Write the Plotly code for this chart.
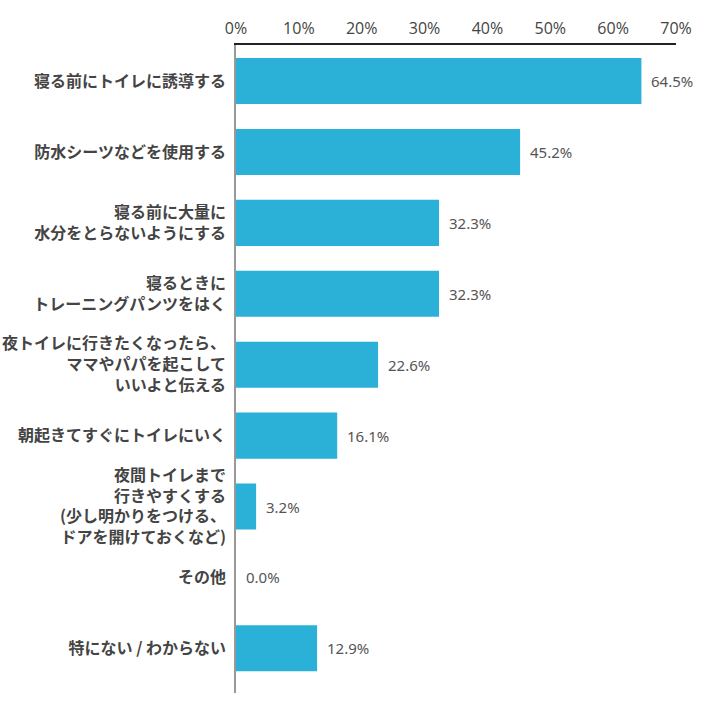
import plotly.graph_objects as go

categories = [
    "寝る前にトイレに誘導する",
    "防水シーツなどを使用する",
    "寝る前に大量に<br>水分をとらないようにする",
    "寝るときに<br>トレーニングパンツをはく",
    "夜トイレに行きたくなったら、<br>ママやパパを起こして<br>いいよと伝える",
    "朝起きてすぐにトイレにいく",
    "夜間トイレまで<br>行きやすくする<br>(少し明かりをつける、<br>ドアを開けておくなど)",
    "その他",
    "特にない / わからない",
]
values = [64.5, 45.2, 32.3, 32.3, 22.6, 16.1, 3.2, 0.0, 12.9]
tick_vals = [0, 10, 20, 30, 40, 50, 60, 70]
tick_text = ["0%", "10%", "20%", "30%", "40%", "50%", "60%", "70%"]

idx = list(range(len(categories)))

fig = go.Figure()
fig.add_trace(go.Bar(
    x=values, y=idx, orientation="h",
    marker=dict(color="#2BB0D8", line=dict(width=0)),
    width=0.65,
    hoverinfo="skip",
))

for i, v in zip(idx, values):
    fig.add_annotation(
        x=v, y=i, xref="x", yref="y",
        text=f"{v:.1f}%", showarrow=False,
        xanchor="left", xshift=8,
        font=dict(family="Noto Sans, Liberation Sans, sans-serif", size=15, color="#555555"),
    )

fig.update_layout(
    width=710, height=720,
    margin=dict(l=236, r=34, t=45, b=27, autoexpand=False),
    paper_bgcolor="white", plot_bgcolor="white",
    showlegend=False,
    xaxis=dict(
        side="top", range=[0, 70], tickvals=tick_vals, ticktext=tick_text,
        showgrid=False, zeroline=False, showline=True, linecolor="#222222", linewidth=1.5,
        ticks="", ticklabelstandoff=3, automargin=False,
        tickfont=dict(family="Open Sans, Noto Sans, sans-serif", size=16, color="#444444"),
    ),
    yaxis=dict(
        range=[8.63, -0.508], tickvals=idx, ticktext=categories,
        showgrid=False, zeroline=False, showline=True, linecolor="#999999", linewidth=1.5,
        ticks="", ticklabelstandoff=5, automargin=False,
        tickfont=dict(family="Noto Sans CJK JP", size=16, color="#444444", weight="bold"),
    ),
)

fig.write_html("out.html")
